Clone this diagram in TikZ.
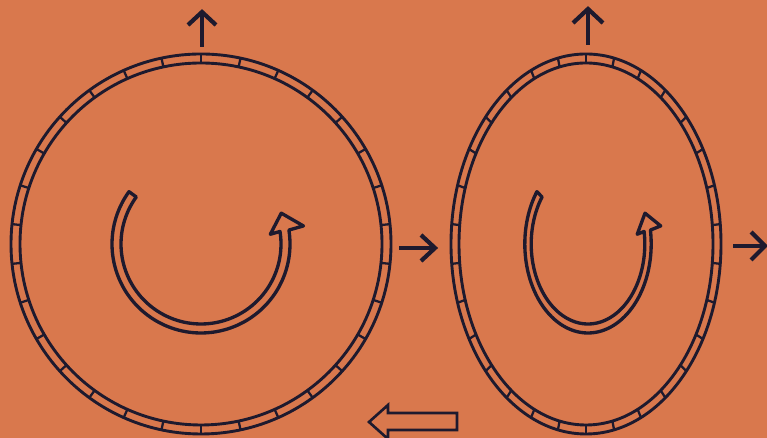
\documentclass[tikz,border=0pt]{standalone}
\definecolor{bg}{RGB}{217,120,77}
\definecolor{ink}{RGB}{30,26,46}
\newcommand\hollowturn{%
  \draw[band] plot[domain=144:369,samples=100] (\x:89) -- (370:104) -- (381:86) -- (368:70) -- (369:80)
    -- plot[domain=369:144,samples=100] (\x:80) -- cycle;}
\begin{document}
\begin{tikzpicture}[x=0.02cm,y=0.02cm,
  ring/.style={draw=ink,line width=1.65pt},
  tick/.style={draw=ink,line width=1.3pt},
  band/.style={draw=ink,line width=1.9pt,line join=round},
  straight/.style={draw=ink,line width=2.4pt,line join=miter},
  hollow/.style={draw=ink,line width=1.5pt,line join=miter}]
\fill[bg] (0,0) rectangle (767,438);
\useasboundingbox (0,0) rectangle (767,438);
\clip (0,0) rectangle (767,438);
% left ring (circle)
\begin{scope}[shift={(201,194)}]
  \draw[ring] (0,0) circle[radius=190];
  \draw[ring] (0,0) circle[radius=181];
  \foreach \k in {0,...,29}{\pgfmathsetmacro\ang{90+12*\k}
    \draw[tick] (\ang:181) -- (\ang:190);}
  \hollowturn
\end{scope}
% right ring (ellipse)
\begin{scope}[shift={(586,194)}]
  \draw[ring] (0,0) ellipse[x radius=135,y radius=190];
  \draw[ring] (0,0) ellipse[x radius=127,y radius=181];
  \foreach \k in {0,...,29}{\pgfmathsetmacro\ang{90+12*\k}
    \draw[tick] ({127*cos(\ang)},{181*sin(\ang)}) -- ({135*cos(\ang)},{190*sin(\ang)});}
\end{scope}
\begin{scope}[shift={(588,194)},xscale=0.71]
  \hollowturn
\end{scope}
% straight arrows
\coordinate (upLa) at (202,391); \coordinate (upLb) at (202,426);
\coordinate (upRa) at (588,393); \coordinate (upRb) at (588,429);
\coordinate (rtLa) at (399,190); \coordinate (rtLb) at (435,190);
\coordinate (rtRa) at (733,192); \coordinate (rtRb) at (765,192);
\draw[straight] (upLa) -- (upLb);
\draw[straight] (upLb) ++(-14,-13) -- (upLb) -- ++(14,-13);
\draw[straight] (upRa) -- (upRb);
\draw[straight] (upRb) ++(-15,-14) -- (upRb) -- ++(15,-14);
\draw[straight] (rtLa) -- (rtLb);
\draw[straight] (rtLb) ++(-14,13) -- (rtLb) -- ++(-14,-13);
\draw[straight] (rtRa) -- (rtRb);
\draw[straight] (rtRb) ++(-14,14) -- (rtRb) -- ++(-14,-14);
% hollow left arrow
\coordinate (hl) at (369,16);
\draw[hollow] (hl) -- ++(19,17) -- ++(0,-8) -- ++(69,0) -- ++(0,-17) -- ++(-69,0) -- ++(0,-9) -- cycle;
\end{tikzpicture}
\end{document}
